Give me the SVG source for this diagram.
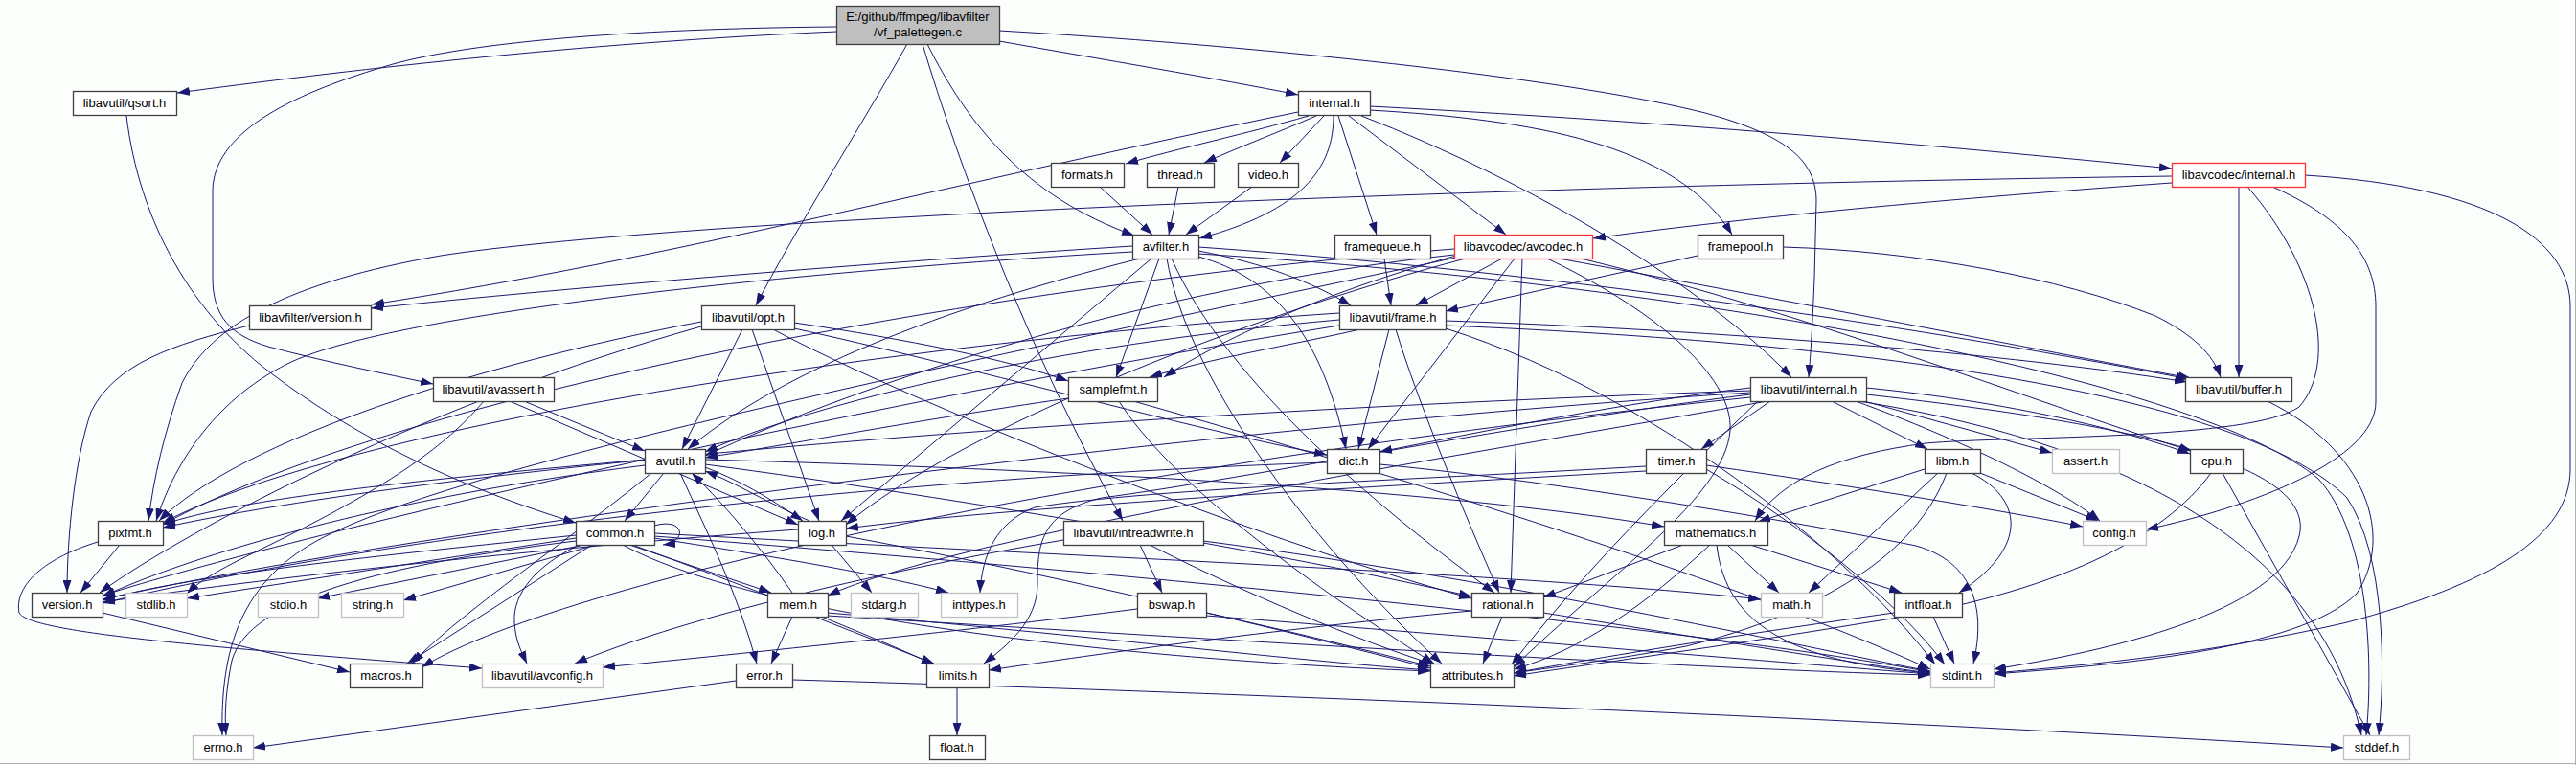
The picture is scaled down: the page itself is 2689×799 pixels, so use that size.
<svg xmlns="http://www.w3.org/2000/svg" width="2689" height="799" viewBox="0 0 2689 799">
<style>
.edge{fill:none;stroke:#191970;stroke-width:1;marker-end:url(#arr)}
.box{fill:#ffffff;stroke:#404040;stroke-width:1.3}
.sys{stroke:#c0c0c0}
.red{stroke:#ff3030}
.main{fill:#bfbfbf}
text{font-family:"Liberation Sans",Arial,sans-serif;font-size:13px;text-anchor:middle;fill:#000}
</style>
<defs>
<marker id="arr" markerWidth="13" markerHeight="9" refX="13" refY="4.5" orient="auto" markerUnits="userSpaceOnUse"><path d="M0,0 L13,4.5 L0,9 z" fill="#191970"/></marker>
</defs>
<rect x="0" y="0" width="2689" height="799" fill="#fcfefc"/>
<line x1="2688.5" y1="0" x2="2688.5" y2="799" stroke="#b0b0b0"/>
<line x1="0" y1="797.5" x2="2689" y2="797.5" stroke="#b0b0b0"/>
<g id="edges">
<path class="edge" d="M873,33 C600,45 350,75 185,97"/>
<path class="edge" d="M873,28 C650,30 480,45 400,70 C300,100 222,140 222,200 L222,290 C222,330 240,350 280,362 C340,378 400,390 452,401"/>
<path class="edge" d="M947,46 C900,130 830,240 789,319"/>
<path class="edge" d="M963,46 C1000,170 1070,360 1172,544"/>
<path class="edge" d="M968,46 C1010,130 1070,205 1184,246"/>
<path class="edge" d="M1043,32 C1350,50 1650,85 1780,118 C1860,140 1896,165 1896,210 L1894,290 C1892,340 1890,370 1888,394"/>
<path class="edge" d="M1043,43 C1150,62 1270,82 1355,99"/>
<path class="edge" d="M1366,121 C1300,140 1230,155 1175,171"/>
<path class="edge" d="M1374,121 C1330,140 1290,155 1257,170"/>
<path class="edge" d="M1382,121 L1336,170"/>
<path class="edge" d="M1392,121 C1392,175 1360,220 1252,249"/>
<path class="edge" d="M1397,121 L1437,245"/>
<path class="edge" d="M1408,121 L1572,245"/>
<path class="edge" d="M1421,121 C1600,190 1780,300 1870,394"/>
<path class="edge" d="M1430,111 C1800,130 2100,160 2267,176"/>
<path class="edge" d="M1430,115 C1600,125 1750,150 1808,245"/>
<path class="edge" d="M1355,117 C1000,190 700,270 388,318"/>
<path class="edge" d="M1148,195 L1203,245"/>
<path class="edge" d="M1230,195 L1220,245"/>
<path class="edge" d="M1307,195 L1238,245"/>
<path class="edge" d="M2267,191 C2000,210 1800,230 1663,249"/>
<path class="edge" d="M2267,184 C1500,195 700,230 460,267 C300,295 220,340 190,400 C172,450 160,500 155,544"/>
<path class="edge" d="M2337,195 L2337,394"/>
<path class="edge" d="M2346,195 C2420,280 2440,380 2400,425 C2350,460 2100,455 2010,463 C1920,475 1860,500 1832,544"/>
<path class="edge" d="M2372,195 C2450,230 2480,270 2480,320 L2480,420 C2480,480 2350,530 2240,553"/>
<path class="edge" d="M2406,183 C2600,195 2683,250 2683,320 L2683,490 C2683,560 2600,610 2450,650 C2300,685 2150,697 2081,703"/>
<path class="edge" d="M1182,257 C900,275 600,300 387,322"/>
<path class="edge" d="M1182,263 C800,285 400,330 300,380 C220,420 180,490 163,544"/>
<path class="edge" d="M1202,270 L878,544"/>
<path class="edge" d="M1210,270 L1165,394"/>
<path class="edge" d="M1218,270 C1240,400 1380,580 1505,693"/>
<path class="edge" d="M1223,270 C1280,400 1450,540 1560,619"/>
<path class="edge" d="M1251,268 C1330,290 1380,350 1405,469"/>
<path class="edge" d="M1251,262 C1320,275 1370,295 1410,319"/>
<path class="edge" d="M1251,258 C1700,290 2100,360 2285,396"/>
<path class="edge" d="M1251,265 C1800,300 2300,400 2420,500 C2475,560 2477,700 2470,768"/>
<path class="edge" d="M1190,270 C950,330 800,400 718,469"/>
<path class="edge" d="M1568,270 L1478,319"/>
<path class="edge" d="M1581,270 L1428,469"/>
<path class="edge" d="M1520,267 C1400,300 1280,350 1215,394"/>
<path class="edge" d="M1589,270 L1577,619"/>
<path class="edge" d="M1615,270 C1720,320 1810,390 1806,450 C1800,520 1680,600 1580,697"/>
<path class="edge" d="M1627,270 C1900,320 2150,370 2287,395"/>
<path class="edge" d="M1650,270 C1900,330 2150,430 2288,471"/>
<path class="edge" d="M1518,266 C1200,300 900,400 736,476"/>
<path class="edge" d="M1530,270 C1300,330 1000,450 883,548"/>
<path class="edge" d="M1518,260 C1000,300 400,420 170,548"/>
<path class="edge" d="M1520,269 C1000,380 500,480 340,560 C250,605 230,680 232,768"/>
<path class="edge" d="M1445,270 L1452,319"/>
<path class="edge" d="M1772,267 L1509,325"/>
<path class="edge" d="M1861,258 C2000,262 2150,290 2250,330 C2290,350 2310,370 2318,394"/>
<path class="edge" d="M260,340 C180,360 120,380 95,430 C78,480 70,560 70,619"/>
<path class="edge" d="M775,344 L712,469"/>
<path class="edge" d="M785,344 L855,544"/>
<path class="edge" d="M829,337 C950,355 1050,375 1115,398"/>
<path class="edge" d="M829,343 C1000,380 1250,450 1385,475"/>
<path class="edge" d="M807,344 C950,420 1300,560 1536,625"/>
<path class="edge" d="M732,336 C500,380 250,460 166,544"/>
<path class="edge" d="M732,341 C450,420 200,550 104,619"/>
<path class="edge" d="M1398,334 C1100,360 850,420 736,472"/>
<path class="edge" d="M1398,327 C900,360 350,450 170,546"/>
<path class="edge" d="M1398,340 C900,420 300,560 107,622"/>
<path class="edge" d="M1420,344 C1350,360 1260,375 1200,394"/>
<path class="edge" d="M1450,344 L1418,469"/>
<path class="edge" d="M1457,344 C1480,420 1530,540 1565,619"/>
<path class="edge" d="M1509,335 C1800,345 2100,370 2283,399"/>
<path class="edge" d="M1509,340 C2000,360 2350,420 2450,520 C2490,580 2490,700 2483,768"/>
<path class="edge" d="M1509,343 C1750,420 1950,600 2020,694"/>
<path class="edge" d="M505,419 C470,460 420,500 300,560 C250,585 215,600 195,620"/>
<path class="edge" d="M532,419 L833,548"/>
<path class="edge" d="M547,419 L673,471"/>
<path class="edge" d="M1115,416 C950,440 820,465 736,478"/>
<path class="edge" d="M1168,419 C1220,500 1350,600 1497,693"/>
<path class="edge" d="M1183,419 C1400,480 1800,600 2015,699"/>
<path class="edge" d="M1827,412 C1600,440 1300,500 1150,520 C1085,535 1083,570 1083,610 C1083,650 1050,675 1027,693"/>
<path class="edge" d="M1948,412 C2200,440 2420,480 2400,560 C2380,640 2200,680 2081,699"/>
<path class="edge" d="M1940,419 C2200,460 2420,560 2465,768"/>
<path class="edge" d="M1946,419 L2142,473"/>
<path class="edge" d="M1937,419 C2050,460 2150,510 2192,544"/>
<path class="edge" d="M1835,419 C1750,500 1650,600 1578,694"/>
<path class="edge" d="M1848,419 L1776,469"/>
<path class="edge" d="M1948,405 C2100,420 2220,450 2286,474"/>
<path class="edge" d="M1827,405 C1700,420 1550,450 1440,472"/>
<path class="edge" d="M1827,415 C1200,480 600,600 440,697"/>
<path class="edge" d="M1845,419 C1500,480 1000,560 864,622"/>
<path class="edge" d="M1827,408 C1200,430 500,480 170,551"/>
<path class="edge" d="M1827,410 C1200,450 400,560 107,626"/>
<path class="edge" d="M1912,419 L2012,469"/>
<path class="edge" d="M2367,419 C2470,470 2500,560 2460,620 C2400,680 2200,695 2081,704"/>
<path class="edge" d="M1781,486 C1950,510 2100,535 2174,550"/>
<path class="edge" d="M1781,490 C1900,560 1990,640 2030,694"/>
<path class="edge" d="M1718,487 C1500,500 1200,510 1080,530 C1040,545 1025,580 1023,619"/>
<path class="edge" d="M1718,492 C1400,510 1050,530 883,552"/>
<path class="edge" d="M2009,490 L1835,545"/>
<path class="edge" d="M2023,494 L1888,619"/>
<path class="edge" d="M2032,494 C2000,580 1900,640 1760,675 C1680,690 1620,697 1580,703"/>
<path class="edge" d="M2058,494 C2110,520 2120,570 2045,619"/>
<path class="edge" d="M2067,494 L2190,544"/>
<path class="edge" d="M2320,494 L2474,768"/>
<path class="edge" d="M2308,494 C2260,560 2150,620 1950,650 C1800,675 1650,695 1580,706"/>
<path class="edge" d="M125,569 L84,619"/>
<path class="edge" d="M102,566 C40,585 15,615 20,640 C30,660 200,675 503,698"/>
<path class="edge" d="M107,640 L365,702"/>
<path class="edge" d="M683,549 C715,540 718,566 692,569"/>
<path class="edge" d="M601,565 C400,590 260,625 242,690 C236,720 234,745 236,768"/>
<path class="edge" d="M601,562 L195,625"/>
<path class="edge" d="M610,569 L331,625"/>
<path class="edge" d="M622,569 L421,627"/>
<path class="edge" d="M601,559 C400,580 200,600 107,627"/>
<path class="edge" d="M618,569 L425,693"/>
<path class="edge" d="M605,569 C560,590 535,620 537,650 C538,670 545,682 550,693"/>
<path class="edge" d="M683,562 C800,580 920,600 990,619"/>
<path class="edge" d="M660,569 C800,620 900,660 975,694"/>
<path class="edge" d="M683,557 C1100,580 1600,600 1838,626"/>
<path class="edge" d="M683,560 C1200,600 1800,660 2015,702"/>
<path class="edge" d="M650,569 C800,650 1200,690 1493,701"/>
<path class="edge" d="M657,569 L805,619"/>
<path class="edge" d="M868,569 L910,619"/>
<path class="edge" d="M845,544 C800,525 770,505 736,492"/>
<path class="edge" d="M883,560 C1100,600 1350,660 1493,698"/>
<path class="edge" d="M833,553 C600,570 300,600 107,629"/>
<path class="edge" d="M693,494 L652,544"/>
<path class="edge" d="M736,488 C780,505 810,525 838,544"/>
<path class="edge" d="M710,494 C740,560 770,620 790,693"/>
<path class="edge" d="M736,485 C1000,520 1350,580 1536,623"/>
<path class="edge" d="M673,486 C400,520 200,580 107,623"/>
<path class="edge" d="M680,494 C600,560 480,640 430,693"/>
<path class="edge" d="M736,480 C1100,490 1500,510 1737,550"/>
<path class="edge" d="M673,480 C450,500 250,520 170,548"/>
<path class="edge" d="M827,619 C800,580 760,530 722,494"/>
<path class="edge" d="M827,644 L805,693"/>
<path class="edge" d="M864,640 C1100,660 1350,690 1493,700"/>
<path class="edge" d="M864,643 C1300,670 1800,700 2015,705"/>
<path class="edge" d="M850,644 L975,693"/>
<path class="edge" d="M1190,569 L1213,619"/>
<path class="edge" d="M1110,564 C900,600 700,650 600,693"/>
<path class="edge" d="M1200,569 C1300,620 1420,670 1497,694"/>
<path class="edge" d="M1256,565 C1600,610 1900,680 2015,701"/>
<path class="edge" d="M1187,636 C1000,660 750,685 629,697"/>
<path class="edge" d="M1259,640 C1350,660 1430,680 1493,696"/>
<path class="edge" d="M1259,643 C1600,670 1900,695 2015,704"/>
<path class="edge" d="M1536,638 C1300,660 1100,690 1032,700"/>
<path class="edge" d="M1568,644 L1548,693"/>
<path class="edge" d="M1611,640 C1800,670 1950,695 2015,703"/>
<path class="edge" d="M1757,569 L1611,624"/>
<path class="edge" d="M1785,569 C1720,630 1650,680 1580,699"/>
<path class="edge" d="M1792,569 C1800,640 1850,690 2015,703"/>
<path class="edge" d="M1803,569 L1857,619"/>
<path class="edge" d="M1827,569 L1985,619"/>
<path class="edge" d="M2018,644 L2040,693"/>
<path class="edge" d="M1977,640 C1800,665 1650,690 1580,703"/>
<path class="edge" d="M768,711 L264,781"/>
<path class="edge" d="M827,710 C1500,730 2100,760 2446,781"/>
<path class="edge" d="M999,718 L999,768"/>
<path class="edge" d="M1385,483 C900,500 400,560 107,630"/>
<path class="edge" d="M1440,485 C1600,500 1850,540 2000,570 C2070,590 2070,650 2060,693"/>
<path class="edge" d="M132,121 C145,230 200,330 290,395 C350,440 450,500 601,546"/>
</g>
<g id="node-main"><rect class="box main" x="873.5" y="6.5" width="170" height="40"/><text x="958" y="22">E:/github/ffmpeg/libavfilter</text><text x="958" y="38">/vf_palettegen.c</text></g>
<g id="node-qsort"><rect class="box" x="76.5" y="95.5" width="108" height="25"/><text x="130" y="112">libavutil/qsort.h</text></g>
<g id="node-internal"><rect class="box" x="1355.5" y="95.5" width="75" height="25"/><text x="1393" y="112">internal.h</text></g>
<g id="node-formats"><rect class="box" x="1097.5" y="170.5" width="76" height="25"/><text x="1135" y="187">formats.h</text></g>
<g id="node-thread"><rect class="box" x="1197.5" y="170.5" width="70" height="25"/><text x="1232" y="187">thread.h</text></g>
<g id="node-video"><rect class="box" x="1292.5" y="170.5" width="63" height="25"/><text x="1324" y="187">video.h</text></g>
<g id="node-lcinternal"><rect class="box red" x="2267.5" y="170.5" width="139" height="25"/><text x="2337" y="187">libavcodec/internal.h</text></g>
<g id="node-avfilter"><rect class="box" x="1182.5" y="245.5" width="69" height="25"/><text x="1217" y="262">avfilter.h</text></g>
<g id="node-framequeue"><rect class="box" x="1393.5" y="245.5" width="100" height="25"/><text x="1443" y="262">framequeue.h</text></g>
<g id="node-avcodec"><rect class="box red" x="1518.5" y="245.5" width="144" height="25"/><text x="1590" y="262">libavcodec/avcodec.h</text></g>
<g id="node-framepool"><rect class="box" x="1772.5" y="245.5" width="89" height="25"/><text x="1817" y="262">framepool.h</text></g>
<g id="node-lfversion"><rect class="box" x="260.5" y="319.5" width="127" height="25"/><text x="324" y="336">libavfilter/version.h</text></g>
<g id="node-opt"><rect class="box" x="732.5" y="319.5" width="97" height="25"/><text x="781" y="336">libavutil/opt.h</text></g>
<g id="node-frame"><rect class="box" x="1398.5" y="319.5" width="111" height="25"/><text x="1454" y="336">libavutil/frame.h</text></g>
<g id="node-avassert"><rect class="box" x="452.5" y="394.5" width="126" height="25"/><text x="515" y="411">libavutil/avassert.h</text></g>
<g id="node-samplefmt"><rect class="box" x="1115.5" y="394.5" width="93" height="25"/><text x="1162" y="411">samplefmt.h</text></g>
<g id="node-luinternal"><rect class="box" x="1827.5" y="394.5" width="121" height="25"/><text x="1888" y="411">libavutil/internal.h</text></g>
<g id="node-buffer"><rect class="box" x="2281.5" y="394.5" width="111" height="25"/><text x="2337" y="411">libavutil/buffer.h</text></g>
<g id="node-avutil"><rect class="box" x="673.5" y="469.5" width="63" height="25"/><text x="705" y="486">avutil.h</text></g>
<g id="node-dict"><rect class="box" x="1385.5" y="469.5" width="55" height="25"/><text x="1413" y="486">dict.h</text></g>
<g id="node-timer"><rect class="box" x="1718.5" y="469.5" width="63" height="25"/><text x="1750" y="486">timer.h</text></g>
<g id="node-libm"><rect class="box" x="2009.5" y="469.5" width="58" height="25"/><text x="2038" y="486">libm.h</text></g>
<g id="node-assert"><rect class="box sys" x="2142.5" y="469.5" width="70" height="25"/><text x="2177" y="486">assert.h</text></g>
<g id="node-cpu"><rect class="box" x="2286.5" y="469.5" width="55" height="25"/><text x="2314" y="486">cpu.h</text></g>
<g id="node-pixfmt"><rect class="box" x="102.5" y="544.5" width="68" height="25"/><text x="136" y="561">pixfmt.h</text></g>
<g id="node-common"><rect class="box" x="601.5" y="544.5" width="82" height="25"/><text x="642" y="561">common.h</text></g>
<g id="node-log"><rect class="box" x="833.5" y="544.5" width="50" height="25"/><text x="858" y="561">log.h</text></g>
<g id="node-intreadwrite"><rect class="box" x="1110.5" y="544.5" width="146" height="25"/><text x="1183" y="561">libavutil/intreadwrite.h</text></g>
<g id="node-mathematics"><rect class="box" x="1737.5" y="544.5" width="108" height="25"/><text x="1791" y="561">mathematics.h</text></g>
<g id="node-config"><rect class="box sys" x="2174.5" y="544.5" width="66" height="25"/><text x="2207" y="561">config.h</text></g>
<g id="node-version"><rect class="box" x="33.5" y="619.5" width="74" height="25"/><text x="70" y="636">version.h</text></g>
<g id="node-stdlib"><rect class="box sys" x="131.5" y="619.5" width="64" height="25"/><text x="163" y="636">stdlib.h</text></g>
<g id="node-stdio"><rect class="box sys" x="269.5" y="619.5" width="63" height="25"/><text x="301" y="636">stdio.h</text></g>
<g id="node-string"><rect class="box sys" x="356.5" y="619.5" width="65" height="25"/><text x="389" y="636">string.h</text></g>
<g id="node-mem"><rect class="box" x="801.5" y="619.5" width="63" height="25"/><text x="833" y="636">mem.h</text></g>
<g id="node-stdarg"><rect class="box sys" x="888.5" y="619.5" width="70" height="25"/><text x="923" y="636">stdarg.h</text></g>
<g id="node-inttypes"><rect class="box sys" x="982.5" y="619.5" width="80" height="25"/><text x="1022" y="636">inttypes.h</text></g>
<g id="node-bswap"><rect class="box" x="1187.5" y="619.5" width="72" height="25"/><text x="1223" y="636">bswap.h</text></g>
<g id="node-rational"><rect class="box" x="1536.5" y="619.5" width="75" height="25"/><text x="1574" y="636">rational.h</text></g>
<g id="node-math"><rect class="box sys" x="1838.5" y="619.5" width="64" height="25"/><text x="1870" y="636">math.h</text></g>
<g id="node-intfloat"><rect class="box" x="1977.5" y="619.5" width="71" height="25"/><text x="2013" y="636">intfloat.h</text></g>
<g id="node-macros"><rect class="box" x="365.5" y="693.5" width="76" height="25"/><text x="403" y="710">macros.h</text></g>
<g id="node-avconfig"><rect class="box sys" x="503.5" y="693.5" width="126" height="25"/><text x="566" y="710">libavutil/avconfig.h</text></g>
<g id="node-error"><rect class="box" x="768.5" y="693.5" width="59" height="25"/><text x="798" y="710">error.h</text></g>
<g id="node-limits"><rect class="box" x="967.5" y="693.5" width="65" height="25"/><text x="1000" y="710">limits.h</text></g>
<g id="node-attributes"><rect class="box" x="1493.5" y="693.5" width="87" height="25"/><text x="1537" y="710">attributes.h</text></g>
<g id="node-stdint"><rect class="box sys" x="2015.5" y="693.5" width="66" height="25"/><text x="2048" y="710">stdint.h</text></g>
<g id="node-errno"><rect class="box sys" x="201.5" y="768.5" width="63" height="25"/><text x="233" y="785">errno.h</text></g>
<g id="node-float"><rect class="box" x="970.5" y="768.5" width="58" height="25"/><text x="999" y="785">float.h</text></g>
<g id="node-stddef"><rect class="box sys" x="2446.5" y="768.5" width="69" height="25"/><text x="2481" y="785">stddef.h</text></g>
</svg>
